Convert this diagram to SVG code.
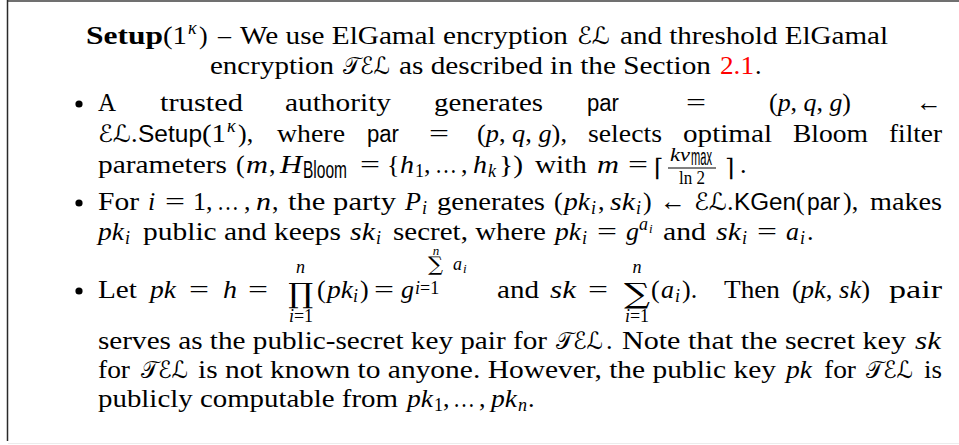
<svg xmlns="http://www.w3.org/2000/svg" width="959" height="445" viewBox="0 0 959 445">
<style>
.t{font-family:"Liberation Serif",serif;font-size:26px;fill:#000}
.i{font-style:italic}
.b{font-weight:bold}
.s{font-family:"Liberation Sans",sans-serif;font-size:23px;fill:#000}
.c{font-family:"DejaVu Sans","Noto Sans",serif;font-size:24px;fill:#000}
.sm{font-size:18px}
.xs{font-size:13px}
.red{fill:#ff0000}
.op{font-family:"DejaVu Serif","Liberation Serif",serif;fill:#000}
.bul{fill:#000}
</style>
<rect width="959" height="445" fill="#fff"/>
<g id="frame">
<line x1="7" y1="1" x2="959" y2="1" stroke="#707070" stroke-width="2"/>
<line x1="7.5" y1="0" x2="7.5" y2="441" stroke="#2a2a2a" stroke-width="1.5"/>
<line x1="8" y1="443.5" x2="959" y2="443.5" stroke="#ececec" stroke-width="1"/>
</g>
<g id="title">
<text class="t b" x="86" y="44" textLength="77" lengthAdjust="spacingAndGlyphs">Setup</text>
<text class="t" x="163" y="44" textLength="24" lengthAdjust="spacingAndGlyphs">(1</text>
<text class="t i sm" x="188" y="34">κ</text>
<text class="t" x="199" y="44">)</text>
<text class="t" x="218" y="44" textLength="13" lengthAdjust="spacingAndGlyphs">–</text>
<text class="t" x="240" y="44" textLength="328" lengthAdjust="spacingAndGlyphs">We use ElGamal encryption</text>
<text class="c" x="577" y="44" textLength="33" lengthAdjust="spacingAndGlyphs">ℰℒ</text>
<text class="t" x="620" y="44" textLength="268" lengthAdjust="spacingAndGlyphs">and threshold ElGamal</text>
<text class="t" x="210" y="74" textLength="124" lengthAdjust="spacingAndGlyphs">encryption</text>
<text class="c" x="343" y="74" textLength="47" lengthAdjust="spacingAndGlyphs">𝒯ℰℒ</text>
<text class="t" x="399" y="74" textLength="312" lengthAdjust="spacingAndGlyphs">as described in the Section</text>
<text class="t red" x="720" y="74" textLength="34" lengthAdjust="spacingAndGlyphs">2.1</text>
<text class="t" x="755" y="74">.</text>
</g>
<g id="bullet1">
<circle class="bul" cx="79" cy="104" r="3.6"/>
<text class="t" x="98" y="111" textLength="18" lengthAdjust="spacingAndGlyphs">A</text>
<text class="t" x="160" y="111" textLength="83" lengthAdjust="spacingAndGlyphs">trusted</text>
<text class="t" x="285" y="111" textLength="106" lengthAdjust="spacingAndGlyphs">authority</text>
<text class="t" x="434" y="111" textLength="109" lengthAdjust="spacingAndGlyphs">generates</text>
<text class="s" x="587" y="111" textLength="32" lengthAdjust="spacingAndGlyphs">par</text>
<text class="t" x="686" y="111" textLength="20" lengthAdjust="spacingAndGlyphs">=</text>
<text class="t" x="769" y="111" textLength="82" lengthAdjust="spacingAndGlyphs">(<tspan class="i">p</tspan>, <tspan class="i">q</tspan>, <tspan class="i">g</tspan>)</text>
<text class="t" x="916" y="111" textLength="26" lengthAdjust="spacingAndGlyphs">←</text>

<text class="c" x="98" y="142" textLength="33" lengthAdjust="spacingAndGlyphs">ℰℒ</text>
<text class="t" x="131" y="142">.</text>
<text class="s" x="138" y="142" textLength="64" lengthAdjust="spacingAndGlyphs">Setup</text>
<text class="t" x="202" y="142" textLength="24" lengthAdjust="spacingAndGlyphs">(1</text>
<text class="t i sm" x="227" y="132">κ</text>
<text class="t" x="238" y="142">),</text>
<text class="t" x="277" y="142" textLength="68" lengthAdjust="spacingAndGlyphs">where</text>
<text class="s" x="367" y="142" textLength="32" lengthAdjust="spacingAndGlyphs">par</text>
<text class="t" x="429" y="142" textLength="20" lengthAdjust="spacingAndGlyphs">=</text>
<text class="t" x="477" y="142" textLength="90" lengthAdjust="spacingAndGlyphs">(<tspan class="i">p</tspan>, <tspan class="i">q</tspan>, <tspan class="i">g</tspan>),</text>
<text class="t" x="588" y="142" textLength="74" lengthAdjust="spacingAndGlyphs">selects</text>
<text class="t" x="683" y="142" textLength="89" lengthAdjust="spacingAndGlyphs">optimal</text>
<text class="t" x="793" y="142" textLength="75" lengthAdjust="spacingAndGlyphs">Bloom</text>
<text class="t" x="889" y="142" textLength="53" lengthAdjust="spacingAndGlyphs">filter</text>

<text class="t" x="98" y="173" textLength="129" lengthAdjust="spacingAndGlyphs">parameters</text>
<text class="t" x="236" y="173">(</text>
<text class="t i" x="246" y="173" textLength="22" lengthAdjust="spacingAndGlyphs">m</text>
<text class="t" x="269" y="173">,</text>
<text class="t i" x="280" y="173" textLength="22" lengthAdjust="spacingAndGlyphs">H</text>
<text class="s" x="303" y="178" font-size="16" textLength="44" lengthAdjust="spacingAndGlyphs">Bloom</text>
<text class="t" x="360" y="173" textLength="20" lengthAdjust="spacingAndGlyphs">=</text>
<text class="t" x="387" y="173">{</text>
<text class="t i" x="400" y="173" textLength="14" lengthAdjust="spacingAndGlyphs">h</text>
<text class="t sm" x="415" y="177">1</text>
<text class="t" x="424" y="173">,</text>
<text class="t" x="435" y="173" textLength="22" lengthAdjust="spacingAndGlyphs">…</text>
<text class="t" x="461" y="173">,</text>
<text class="t i" x="473" y="173" textLength="14" lengthAdjust="spacingAndGlyphs">h</text>
<text class="t i sm" x="488" y="177">k</text>
<text class="t" x="499" y="173" textLength="24" lengthAdjust="spacingAndGlyphs">})</text>
<text class="t" x="535" y="173" textLength="52" lengthAdjust="spacingAndGlyphs">with</text>
<text class="t i" x="597" y="173" textLength="22" lengthAdjust="spacingAndGlyphs">m</text>
<text class="t" x="628" y="173" textLength="20" lengthAdjust="spacingAndGlyphs">=</text>
<text class="op" x="654" y="176" font-size="24">⌈</text>
<text class="t i sm" x="670" y="161" textLength="20" lengthAdjust="spacingAndGlyphs">kv</text>
<text class="s" x="691" y="165" font-size="10.5" textLength="21" lengthAdjust="spacingAndGlyphs">max</text>
<line x1="668" y1="168" x2="716" y2="168" stroke="#000" stroke-width="1"/>
<text class="t sm" x="679" y="184" textLength="26" lengthAdjust="spacingAndGlyphs">ln 2</text>
<text class="op" x="725" y="176" font-size="24">⌉</text>
<text class="t" x="740" y="173">.</text>
</g>
<g id="bullet2">
<circle class="bul" cx="79" cy="203" r="3.6"/>
<text class="t" x="98" y="210" textLength="41" lengthAdjust="spacingAndGlyphs">For</text>
<text class="t i" x="148" y="210">i</text>
<text class="t" x="165" y="210" textLength="20" lengthAdjust="spacingAndGlyphs">=</text>
<text class="t" x="193" y="210">1,</text>
<text class="t" x="217" y="210" textLength="22" lengthAdjust="spacingAndGlyphs">…</text>
<text class="t" x="244" y="210">,</text>
<text class="t i" x="256" y="210" textLength="15" lengthAdjust="spacingAndGlyphs">n</text>
<text class="t" x="272" y="210">,</text>
<text class="t" x="288" y="210" textLength="108" lengthAdjust="spacingAndGlyphs">the party</text>
<text class="t i" x="405" y="210" textLength="16" lengthAdjust="spacingAndGlyphs">P</text>
<text class="t i sm" x="422" y="214">i</text>
<text class="t" x="437" y="210" textLength="108" lengthAdjust="spacingAndGlyphs">generates</text>
<text class="t" x="554" y="210">(</text>
<text class="t i" x="564" y="210" textLength="26" lengthAdjust="spacingAndGlyphs">pk</text>
<text class="t i sm" x="591" y="214">i</text>
<text class="t" x="598" y="210">,</text>
<text class="t i" x="610" y="210" textLength="25" lengthAdjust="spacingAndGlyphs">sk</text>
<text class="t i sm" x="636" y="214">i</text>
<text class="t" x="643" y="210">)</text>
<text class="t" x="660" y="210" textLength="26" lengthAdjust="spacingAndGlyphs">←</text>
<text class="c" x="694" y="210" textLength="33" lengthAdjust="spacingAndGlyphs">ℰℒ</text>
<text class="t" x="727" y="210">.</text>
<text class="s" x="734" y="210" textLength="62" lengthAdjust="spacingAndGlyphs">KGen</text>
<text class="t" x="796" y="210">(</text>
<text class="s" x="807" y="210" textLength="33" lengthAdjust="spacingAndGlyphs">par</text>
<text class="t" x="843" y="210">),</text>
<text class="t" x="870" y="210" textLength="72" lengthAdjust="spacingAndGlyphs">makes</text>

<text class="t i" x="98" y="240" textLength="26" lengthAdjust="spacingAndGlyphs">pk</text>
<text class="t i sm" x="125" y="244">i</text>
<text class="t" x="143" y="240" textLength="198" lengthAdjust="spacingAndGlyphs">public and keeps</text>
<text class="t i" x="350" y="240" textLength="25" lengthAdjust="spacingAndGlyphs">sk</text>
<text class="t i sm" x="376" y="244">i</text>
<text class="t" x="393" y="240" textLength="153" lengthAdjust="spacingAndGlyphs">secret, where</text>
<text class="t i" x="555" y="240" textLength="26" lengthAdjust="spacingAndGlyphs">pk</text>
<text class="t i sm" x="582" y="244">i</text>
<text class="t" x="597" y="240" textLength="20" lengthAdjust="spacingAndGlyphs">=</text>
<text class="t i" x="626" y="240">g</text>
<text class="t i sm" x="639" y="230">a</text>
<text class="t i xs" x="649" y="233">i</text>
<text class="t" x="663" y="240" textLength="43" lengthAdjust="spacingAndGlyphs">and</text>
<text class="t i" x="716" y="240" textLength="25" lengthAdjust="spacingAndGlyphs">sk</text>
<text class="t i sm" x="742" y="244">i</text>
<text class="t" x="757" y="240" textLength="20" lengthAdjust="spacingAndGlyphs">=</text>
<text class="t i" x="786" y="240" textLength="13" lengthAdjust="spacingAndGlyphs">a</text>
<text class="t i sm" x="800" y="244">i</text>
<text class="t" x="807" y="240">.</text>
</g>
<g id="bullet3">
<circle class="bul" cx="79" cy="291" r="3.6"/>
<text class="t" x="98" y="298" textLength="39" lengthAdjust="spacingAndGlyphs">Let</text>
<text class="t i" x="150" y="298" textLength="26" lengthAdjust="spacingAndGlyphs">pk</text>
<text class="t" x="189" y="298" textLength="20" lengthAdjust="spacingAndGlyphs">=</text>
<text class="t i" x="223" y="298" textLength="14" lengthAdjust="spacingAndGlyphs">h</text>
<text class="t" x="248" y="298" textLength="20" lengthAdjust="spacingAndGlyphs">=</text>
<text class="op" x="288" y="303" font-size="28" textLength="25" lengthAdjust="spacingAndGlyphs">∏</text>
<text class="t i sm" x="300.5" y="273" text-anchor="middle">n</text>
<text class="t sm" x="301" y="322" text-anchor="middle"><tspan class="i">i</tspan>=1</text>
<text class="t" x="317" y="298">(</text>
<text class="t i" x="327" y="298" textLength="26" lengthAdjust="spacingAndGlyphs">pk</text>
<text class="t i sm" x="353" y="302">i</text>
<text class="t" x="360" y="298">)</text>
<text class="t" x="374" y="298" textLength="20" lengthAdjust="spacingAndGlyphs">=</text>
<text class="t i" x="401" y="298">g</text>
<text class="t sm" x="415" y="294" font-size="16"><tspan class="i">i</tspan>=1</text>
<text class="op" x="428" y="271" font-size="20" textLength="15" lengthAdjust="spacingAndGlyphs">∑</text>
<text class="t i xs" x="436" y="255" text-anchor="middle">n</text>
<text class="t i sm" x="453" y="270">a</text>
<text class="t i xs" x="463" y="273">i</text>
<text class="t" x="497" y="298" textLength="42" lengthAdjust="spacingAndGlyphs">and</text>
<text class="t i" x="550" y="298" textLength="26" lengthAdjust="spacingAndGlyphs">sk</text>
<text class="t" x="588" y="298" textLength="20" lengthAdjust="spacingAndGlyphs">=</text>
<text class="op" x="624" y="303" font-size="28" textLength="26" lengthAdjust="spacingAndGlyphs">∑</text>
<text class="t i sm" x="637" y="273" text-anchor="middle">n</text>
<text class="t sm" x="637" y="322" text-anchor="middle"><tspan class="i">i</tspan>=1</text>
<text class="t" x="651" y="298">(</text>
<text class="t i" x="661" y="298" textLength="13" lengthAdjust="spacingAndGlyphs">a</text>
<text class="t i sm" x="675" y="302">i</text>
<text class="t" x="682" y="298">).</text>
<text class="t" x="724" y="298" textLength="56" lengthAdjust="spacingAndGlyphs">Then</text>
<text class="t" x="792" y="298" textLength="78" lengthAdjust="spacingAndGlyphs">(<tspan class="i">pk</tspan>, <tspan class="i">sk</tspan>)</text>
<text class="t" x="889" y="298" textLength="53" lengthAdjust="spacingAndGlyphs">pair</text>

<text class="t" x="98" y="349" textLength="449" lengthAdjust="spacingAndGlyphs">serves as the public-secret key pair for</text>
<text class="c" x="556" y="349" textLength="47" lengthAdjust="spacingAndGlyphs">𝒯ℰℒ</text>
<text class="t" x="606" y="349">.</text>
<text class="t" x="622" y="349" textLength="284" lengthAdjust="spacingAndGlyphs">Note that the secret key</text>
<text class="t i" x="915" y="349" textLength="26" lengthAdjust="spacingAndGlyphs">sk</text>

<text class="t" x="98" y="378" textLength="32" lengthAdjust="spacingAndGlyphs">for</text>
<text class="c" x="141" y="378" textLength="47" lengthAdjust="spacingAndGlyphs">𝒯ℰℒ</text>
<text class="t" x="198" y="378" textLength="578" lengthAdjust="spacingAndGlyphs">is not known to anyone. However, the public key</text>
<text class="t i" x="786" y="378" textLength="26" lengthAdjust="spacingAndGlyphs">pk</text>
<text class="t" x="824" y="378" textLength="32" lengthAdjust="spacingAndGlyphs">for</text>
<text class="c" x="866" y="378" textLength="47" lengthAdjust="spacingAndGlyphs">𝒯ℰℒ</text>
<text class="t" x="924" y="378" textLength="18" lengthAdjust="spacingAndGlyphs">is</text>

<text class="t" x="98" y="407" textLength="300" lengthAdjust="spacingAndGlyphs">publicly computable from</text>
<text class="t i" x="407" y="407" textLength="26" lengthAdjust="spacingAndGlyphs">pk</text>
<text class="t sm" x="434" y="411">1</text>
<text class="t" x="443" y="407">,</text>
<text class="t" x="453" y="407" textLength="22" lengthAdjust="spacingAndGlyphs">…</text>
<text class="t" x="479" y="407">,</text>
<text class="t i" x="491" y="407" textLength="26" lengthAdjust="spacingAndGlyphs">pk</text>
<text class="t i sm" x="518" y="411">n</text>
<text class="t" x="528" y="407">.</text>
</g>
</svg>
